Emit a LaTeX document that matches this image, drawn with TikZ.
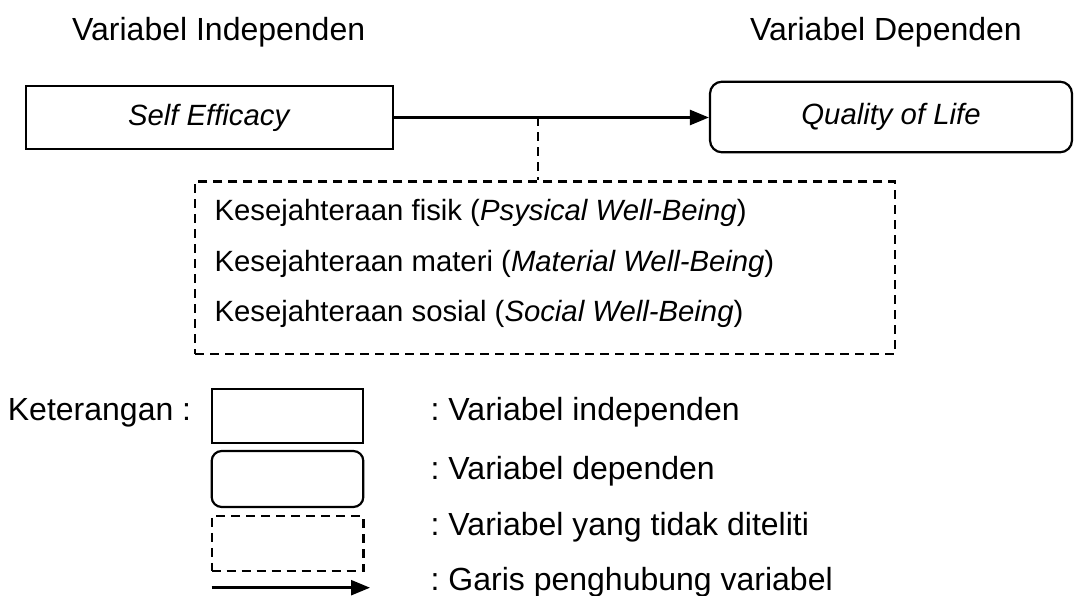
\documentclass[tikz,border=0pt]{standalone}
\usepackage{fontspec}
\setmainfont{Liberation Sans}
\usetikzlibrary{arrows.meta}
\begin{document}
\frenchspacing
\begin{tikzpicture}[x=1pt,y=-1pt,
  bigtxt/.style={font=\fontsize{32}{38}\selectfont, inner sep=0pt},
  smalltxt/.style={font=\fontsize{29.3}{35}\selectfont, inner sep=0pt},
  solidbox/.style={draw, line width=2.2pt, inner sep=0pt},
  roundbox/.style={draw, line width=2.2pt, inner sep=0pt, rounded corners=12pt},
  dashbox/.style={draw, line width=2.4pt, inner sep=0pt, dash pattern=on 9pt off 6pt},
  link/.style={line width=2.5pt, -{Triangle[length=19pt,width=15pt]}},
  dashlink/.style={line width=2.4pt, dash pattern=on 9pt off 6pt}]
\useasboundingbox (0,0) rectangle (1074,596);
% titles
\node[bigtxt, anchor=base west] (tind) at (72,41) {Variabel Independen};
\node[bigtxt, anchor=base west] (tdep) at (750,41) {Variabel Dependen};
% main boxes
\node[solidbox, smalltxt, minimum width=366.7pt, minimum height=63pt] (self) at (209.35,117.5) {\textit{Self Efficacy}};
\node[roundbox, smalltxt, minimum width=362pt, minimum height=70.6pt] (qol) at (891,117) {\textit{Quality of Life}};
\draw[link] (self.east) -- (self.east -| qol.west);
% unresearched variables
\node[dashbox, minimum width=700pt, minimum height=172.3pt] (unres) at (545,267.85) {};
\coordinate (jn) at (538,117.5);
\draw[dashlink] (jn) -- (jn |- unres.north);
\node[smalltxt, anchor=base west] (u1) at (214.4,220.5) {Kesejahteraan fisik (\textit{Psysical Well-Being})};
\node[smalltxt, anchor=base west] (u2) at (214.4,271.5) {Kesejahteraan materi (\textit{Material Well-Being})};
\node[smalltxt, anchor=base west] (u3) at (214.4,321.5) {Kesejahteraan sosial (\textit{Social Well-Being})};
% legend
\node[bigtxt, anchor=base west] (ket) at (7.7,420) {Keterangan :};
\node[solidbox, minimum width=151.6pt, minimum height=54pt] (lg1) at (287.5,416.3) {};
\node[roundbox, rounded corners=10pt, minimum width=151.6pt, minimum height=56pt] (lg2) at (287.5,479) {};
\node[dashbox, minimum width=151.6pt, minimum height=55pt] (lg3) at (287.5,543.5) {};
\coordinate (la) at (211.7,587.7);
\coordinate (lb) at (370,587.7);
\draw[link] (la) -- (lb);
\node[bigtxt, anchor=base west] (lt1) at (430.5,420) {: Variabel independen};
\node[bigtxt, anchor=base west] (lt2) at (430.5,479) {: Variabel dependen};
\node[bigtxt, anchor=base west] (lt3) at (430.5,535) {: Variabel yang tidak diteliti};
\node[bigtxt, anchor=base west] (lt4) at (430.5,590) {: Garis penghubung variabel};
\end{tikzpicture}
\end{document}
